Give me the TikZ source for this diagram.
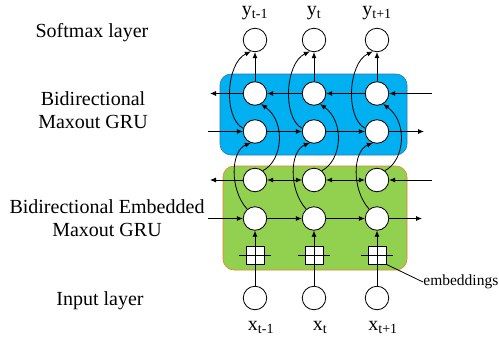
\documentclass[tikz,border=0pt]{standalone}
\usepackage{fontspec}
\setmainfont{Liberation Serif}
\usetikzlibrary{arrows.meta}
\definecolor{grublue}{RGB}{0,176,240}
\definecolor{gruedge}{RGB}{46,117,182}
\definecolor{embgreen}{RGB}{146,208,80}
\definecolor{embedge}{RGB}{237,125,49}

\begin{document}
\begin{tikzpicture}[x=1pt,y=-1pt,>={Latex[length=6pt,width=5pt]},line width=0.8pt,
  unit/.style={circle,draw,fill=white,minimum size=23.5pt,inner sep=0pt},
  lbl/.style={font=\fontsize{20}{23}\selectfont,inner sep=0pt,align=center}]
  \useasboundingbox (0,0) rectangle (499,343);
  % layer boxes
  \draw[gruedge,line width=0.6pt,fill=grublue,rounded corners=11pt] (220,74) rectangle (407,155);
  \draw[embedge,line width=0.6pt,fill=embgreen,rounded corners=11pt] (223,166) rectangle (407,270);
  % layer names
  \node[lbl,anchor=base] (nsoft) at (92,37) {Softmax layer};
  \node[lbl,anchor=base] (ngru) at (93,128) {Bidirectional\\Maxout GRU};
  \node[lbl,anchor=base] (nemb) at (107,236) {Bidirectional Embedded\\Maxout GRU};
  \node[lbl,anchor=base] (ninput) at (100,305) {Input layer};
  % free ends of the rows
  \coordinate (bbout) at (210,93.5);  \coordinate (bbin) at (432,93.5);
  \coordinate (bfin) at (208,131.5);  \coordinate (bfout) at (424,131.5);
  \coordinate (gbout) at (210,180);   \coordinate (gbin) at (432,180);
  \coordinate (gfin) at (208,218.5);  \coordinate (gfout) at (422,218.5);
  % one column per time step
  \foreach \i/\x/\s in {1/255/t-1,2/314/t,3/377/t+1} {
    \node[lbl,anchor=base] (ylab\i) at (\x,15) {y\textsubscript{\s}};
    \node[unit] (sm\i) at (\x,40) {};
    \node[unit] (bb\i) at (\x,93.5) {};
    \node[unit] (bf\i) at (\x,131.5) {};
    \node[unit] (gb\i) at (\x,180) {};
    \node[unit] (gf\i) at (\x,218.5) {};
    \node[draw,fill=white,minimum size=18pt,inner sep=0pt] (em\i) at (\x,255) {};
    \draw ([xshift=-7pt]em\i.west) -- ([xshift=7pt]em\i.east);
    \node[unit] (in\i) at (\x,298) {};
    \node[lbl,anchor=base] (xlab\i) at (\x+6,330) {x\textsubscript{\s}};
    \draw[->] (in\i) -- (gf\i);
    \draw[->] (bb\i) -- (sm\i);
    \draw[->] (bf\i.165) .. controls +(-20,-10) and +(-25,12) .. (sm\i.250);
    \draw[->] (gf\i.130) .. controls +(-18,-20) and +(-20,8) .. (bf\i.250);
    \draw[->] (gb\i.50) .. controls +(20,-10) and +(25,18) .. (bb\i.-60);
  }
  % recurrent links
  \draw[->] (bbin) -- (bb3);
  \draw[->] (bb3) -- (bb2);
  \draw[->] (bb2) -- (bb1);
  \draw[->] (bb1) -- (bbout);
  \draw[->] (bfin) -- (bf1);
  \draw[->] (bf1) -- (bf2);
  \draw[->] (bf2) -- (bf3);
  \draw[->] (bf3) -- (bfout);
  \draw[->] (gbin) -- (gb3);
  \draw[<->] (gb2) -- (gb3);
  \draw[<->] (gb1) -- (gb2);
  \draw[->] (gb1) -- (gbout);
  \draw[->] (gfin) -- (gf1);
  \draw[->] (gf1) -- (gf2);
  \draw[->] (gf2) -- (gf3);
  \draw[->] (gf3) -- (gfout);
  % embeddings callout
  \node[font=\fontsize{15.5}{18}\selectfont,anchor=west,inner sep=0pt] (embtxt) at (423,282) {embeddings};
  \draw (em3.south east) -- (embtxt.west);
\end{tikzpicture}
\end{document}
